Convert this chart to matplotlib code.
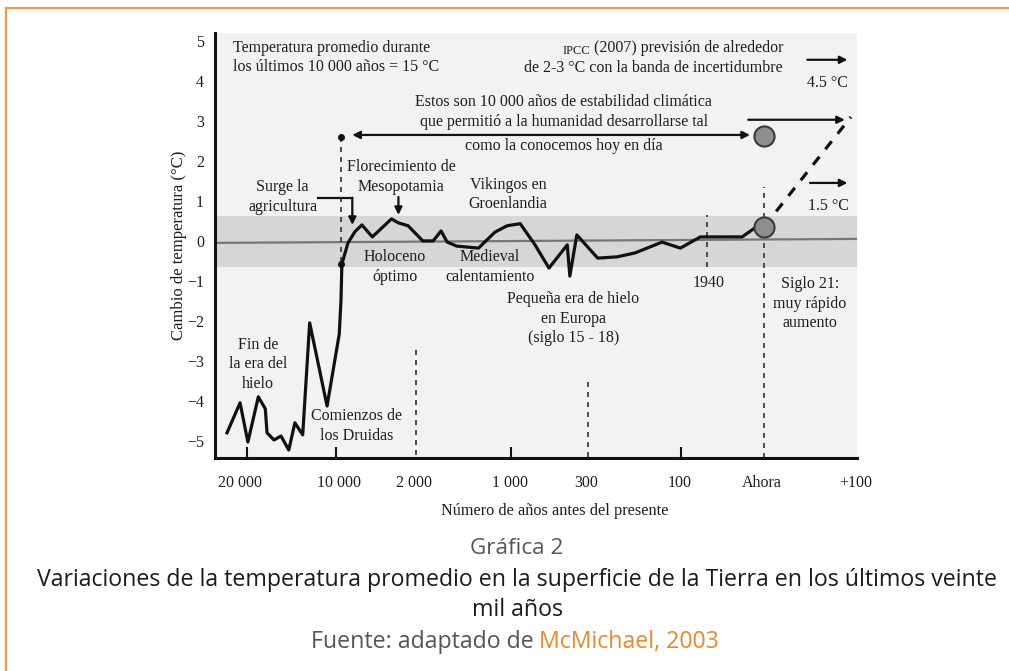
import matplotlib
matplotlib.use("Agg")
import matplotlib.pyplot as plt
from matplotlib.lines import Line2D

# ---------------- data ----------------
tick_labels = ["20 000", "10 000", "2 000", "1 000", "300", "100", "Ahora", "+100"]
tick_label_pos = [-0.08, 1.06, 1.92, 3.02, 3.90, 4.97, 5.91, 7.00]
tick_mark_pos = [0.0, 1.02, 3.03, 4.99]
ytick_vals = [5, 4, 3, 2, 1, 0, -1, -2, -3, -4, -5]

temp_x = [-0.23, -0.08, 0.01, 0.13, 0.21, 0.23, 0.31, 0.39, 0.48, 0.55, 0.64,
          0.72, 0.92, 1.06, 1.08, 1.09, 1.16, 1.24, 1.32, 1.44, 1.66, 1.74,
          1.85, 2.02, 2.14, 2.23, 2.30, 2.41, 2.66, 2.85, 2.99, 3.14, 3.31,
          3.47, 3.68, 3.71, 3.79, 4.03, 4.25, 4.46, 4.77, 4.98, 5.21, 5.69,
          5.84, 5.94]
temp_y = [-4.80, -4.05, -5.03, -3.90, -4.20, -4.80, -4.98, -4.88, -5.23, -4.55,
          -4.85, -2.05, -4.13, -2.33, -1.48, -0.58, -0.05, 0.23, 0.40, 0.10,
          0.55, 0.45, 0.38, 0.00, 0.00, 0.25, -0.03, -0.13, -0.18, 0.22, 0.38,
          0.43, -0.10, -0.68, -0.10, -0.88, 0.15, -0.43, -0.40, -0.30, -0.03,
          -0.18, 0.10, 0.10, 0.33, 0.35]

now_point = (5.94, 0.35)
upper_point = (5.94, 2.63)
proj_x = [5.94, 6.94]
proj_y = [0.35, 3.10]
band = (-0.65, 0.625)
zero_line_y = (-0.05, 0.05)

holocene_start = (1.08, -0.58)
holocene_top = (1.08, 2.60)
# vertical dashed markers: (x, y_start, y_end)
dashed_x = [1.94, 3.92, 5.29, 5.94]
dashed_y0 = [-2.73, -3.53, -0.65, -5.43]
dashed_y1 = [-5.43, -5.43, 0.65, 1.35]

# ---------------- figure ----------------
W, H = 1009, 671
fig = plt.figure(figsize=(W / 100, H / 100), dpi=100)
fig.patch.set_facecolor("white")

def fx(px):
    return px / W

def fy(py):
    return 1 - py / H

orange = "#EE9A50"
fig.add_artist(Line2D([fx(6), fx(6)], [0, fy(8)], color=orange, lw=1.6))
fig.add_artist(Line2D([fx(6), 1], [fy(8), fy(8)], color=orange, lw=1.6))

serif = ["Liberation Serif", "DejaVu Serif"]
tc = "#1e1e1e"
fs = 11.5

ax = fig.add_axes([fx(215), fy(458), fx(857) - fx(215), fy(33) - fy(458)])
ax.set_xlim(-0.368, 7.01)
ax.set_ylim(-5.43, 5.2)
ax.set_facecolor("#f2f2f2")
for s in ["top", "right"]:
    ax.spines[s].set_visible(False)
for s in ["left", "bottom"]:
    ax.spines[s].set_linewidth(2.2)
    ax.spines[s].set_color("#111111")

ax.axhspan(band[0], band[1], color="#d6d6d6", zorder=0.5, lw=0)
ax.plot([-0.368, 7.01], zero_line_y, color="#777777", lw=1.6, zorder=1)

ax.set_xticks(tick_label_pos)
ax.set_xticklabels(tick_labels, family=serif, fontsize=11.5, color=tc)
ax.set_xticks(tick_mark_pos, minor=True)
ax.tick_params(axis="x", which="major", length=0, pad=12)
ax.tick_params(axis="x", which="minor", direction="in", length=8, width=1.5, color="#111")
ax.set_yticks(ytick_vals)
ax.set_yticklabels([str(v).replace("-", "\u2212") for v in ytick_vals], family=serif,
                   fontsize=11.5, color=tc)
ax.tick_params(axis="y", length=0, pad=8)

ax.set_ylabel("Cambio de temperatura (°C)", family=serif, fontsize=12, color=tc, labelpad=0)
fig.text(fx(555), fy(511), "Número de años antes del presente", ha="center", va="center",
         family=serif, fontsize=11.7, color=tc)

dash = (0, (3, 3))
for x, a, b in zip(dashed_x, dashed_y0, dashed_y1):
    ax.plot([x, x], [a, b], ls=dash, color="#333333", lw=1.2, zorder=2)
ax.plot([holocene_top[0], holocene_start[0]], [holocene_top[1], holocene_start[1]],
        ls=dash, color="#333333", lw=1.2, zorder=2)

ax.plot(temp_x, temp_y, color="#111111", lw=2.3, zorder=3)
ax.plot(proj_x, proj_y, color="#111111", lw=2.3, ls=(0, (3.2, 3)), zorder=3)

for p in [now_point, upper_point]:
    ax.plot(p[0], p[1], "o", ms=14.5, mfc="#8e8e8e", mec="#3a3a3a", mew=1.5, zorder=5)
for p in [holocene_start, holocene_top]:
    ax.plot(p[0], p[1], "o", ms=4, color="#111111", zorder=4)

def arrow(x0, y0, x1, y1, style="-|>"):
    ax.annotate("", xy=(x1, y1), xytext=(x0, y0),
                arrowprops=dict(arrowstyle=style, color="#111111", lw=1.6,
                                mutation_scale=11, shrinkA=0, shrinkB=0), zorder=4)

arrow(6.44, 4.53, 6.90, 4.53)
arrow(6.47, 1.45, 6.90, 1.45)
arrow(5.76, 3.03, 6.87, 3.03)
arrow(1.21, 2.65, 5.78, 2.65, style="<|-|>")
ax.plot([0.82, 1.21], [1.08, 1.08], color="#111111", lw=1.6)
arrow(1.21, 1.08, 1.21, 0.40)
arrow(1.74, 1.10, 1.74, 0.65)

def T(x, y, s, ha="center", va="center", size=fs, **kw):
    return ax.text(x, y, s, ha=ha, va=va, family=serif, fontsize=size, color=tc,
                   linespacing=1.3, **kw)

T(-0.16, 4.59, "Temperatura promedio durante\nlos últimos 10 000 años = 15 °C", ha="left")
t_ipcc = T(6.16, 4.73, "(2007) previsión de alrededor", ha="right", va="baseline")
ax.annotate("IPCC", xy=(0, 0), xycoords=t_ipcc, xytext=(-2.5, -0.8), textcoords="offset points",
            ha="right", va="bottom", family=serif, fontsize=9, color=tc)
T(6.16, 4.23, "de 2-3 °C con la banda de incertidumbre", ha="right", va="baseline")
T(6.91, 3.95, "4.5 °C", ha="right")
T(3.64, 3.225, "Estos son 10 000 años de estabilidad climática\nque permitió a la humanidad desarrollarse tal")
T(3.64, 2.375, "como la conocemos hoy en día")
T(1.77, 1.60, "Florecimiento de\nMesopotamia")
T(0.41, 1.10, "Surge la\nagricultura")
T(3.00, 1.16, "Vikingos en\nGroenlandia")
T(1.70, -0.65, "Holoceno\nóptimo")
T(2.79, -0.65, "Medieval\ncalentamiento")
T(5.30, -1.05, "1940")
T(3.75, -1.95, "Pequeña era de hielo\nen Europa\n(siglo 15 - 18)")
T(6.47, -1.575, "Siglo 21:\nmuy rápido\naumento")
T(0.13, -3.09, "Fin de\nla era del\nhielo")
T(1.26, -4.63, "Comienzos de\nlos Druidas")
T(6.68, 0.875, "1.5 °C")

# ---------------- caption ----------------
sans = ["Open Sans", "DejaVu Sans"]
fig.text(fx(517), fy(548), "Gráfica 2", ha="center", va="center", family=sans,
         fontsize=16.2, color="#555555")
fig.text(fx(517), fy(580),
         "Variaciones de la temperatura promedio en la superficie de la Tierra en los últimos veinte",
         ha="center", va="center", family=sans, fontsize=16.7, color="#1c1c1c")
fig.text(fx(517), fy(610), "mil años", ha="center", va="center", family=sans,
         fontsize=16.7, color="#1c1c1c")
t_f = fig.text(fx(311), fy(648), "Fuente: adaptado de", ha="left", va="baseline",
               family=sans, fontsize=16.7, color="#555555")
fig.canvas.draw()
bb = t_f.get_window_extent()
fig.text((bb.x1 + 5) / W, fy(648), "McMichael, 2003", ha="left", va="baseline",
         family=sans, fontsize=16.7, color="#E8872E")

fig.savefig("out.png", dpi=100)
